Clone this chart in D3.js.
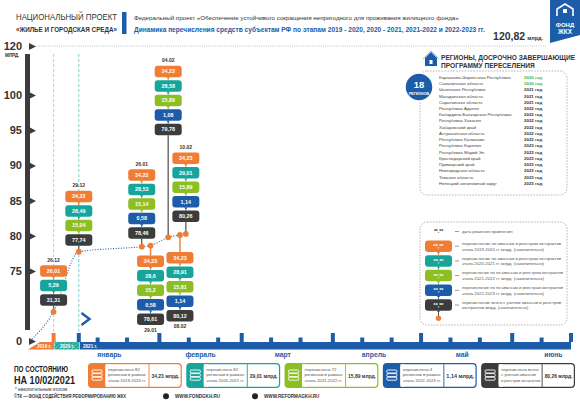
<!DOCTYPE html>
<html>
<head>
<meta charset="utf-8">
<script src="https://d3js.org/d3.v7.min.js"></script>
<style>
  body { margin: 0; background: #fff; }
  svg { display: block; font-family: 'Liberation Sans Narrow', 'Liberation Sans', Arial, sans-serif; }
</style>
</head>
<body>
<div id="chart"></div>
<script>
// --- data ---
var dates  = ["2019-12-26", "2020-12-29", "2021-01-26", "2021-01-29", "2021-02-04", "2021-02-08", "2021-02-10"];
var stage1 = [26.01, 34.22, 34.22, 34.23, 34.23, 34.23, 34.23];   // 2019-2020
var stage2 = [5.29, 28.49, 28.53, 28.6, 28.58, 28.91, 29.01];     // 2020-2021
var stage3 = [null, 15.04, 15.14, 15.2, 15.89, 15.81, 15.89];     // 2021-2022
var stage4 = [null, null, 0.58, 0.58, 1.08, 1.14, 1.14];          // 2022-2023
var totals = [31.31, 77.74, 78.46, 78.61, 79.78, 80.12, 80.26];

var yTicks = [0, 75, 80, 85, 90, 95, 100, 120];
var months = ["январь", "февраль", "март", "апрель", "май", "июнь"];
var segments = ["2019 г.", "2020 г.", "2021 г."];
var target = "120,82";

var stageNames = ["2019-2020", "2020-2021", "2021-2022", "2022-2023"];
var stageRegions = [82, 82, 72, 4];

var regionNames = ["Карачаево-Черкесская Республика", "Сахалинская область", "Чеченская Республика",
  "Магаданская область", "Саратовская область", "Республика Адыгея", "Кабардино-Балкарская Республика",
  "Республика Хакасия", "Хабаровский край", "Астраханская область", "Республика Калмыкия",
  "Республика Карелия", "Республика Марий Эл", "Краснодарский край", "Приморский край",
  "Новгородская область", "Томская область", "Ненецкий автономный округ"];
var regionYears = [2020, 2020, 2021, 2021, 2021, 2022, 2022, 2022, 2022, 2022, 2022,
  2023, 2023, 2023, 2023, 2023, 2023, 2023];

var legendTexts = [
  ["дата решения правления"],
  ["перечисление по авансам и реестрам контрактов", "этапа 2019-2020 гг. млрд. (накопительно)"],
  ["перечисление по авансам и реестрам контрактов", "этапа 2020-2021 гг. млрд. (накопительно)"],
  ["перечисление по по авансам и реестром контрактов", "этапа 2021-2022 гг. млрд. (накопительно)"],
  ["перечисление по по авансам и реестрам контрактов", "этапа 2022-2023 гг. млрд. (накопительно)"],
  ["перечисление всего с учетом авансов и реестров", "контрактов млрд. (накопительно)"]
];

// --- layout of the stacks (which side of the curve, gap to the dot) ---
var stackSide = ["up", "up", "up", "down", "up", "down", "up"];
var stackLift = [6, 6, 8, 10, 102, 17, 12];

var orange = "#ef7d35", teal = "#17a59a", green = "#8dbe22", blue = "#1d5ca8", dark = "#3c3c3c";
var stageColors = [orange, teal, green, blue];

var parse = d3.timeParse("%Y-%m-%d");
var fmtDate = d3.timeFormat("%d.%m");
var num = function (v) { return String(v).replace(".", ","); };

var svg = d3.select("#chart").append("svg")
  .attr("width", 580).attr("height", 410);
svg.append("rect").attr("width", 580).attr("height", 410).attr("fill", "#fff");

function fit(sel, w) {
  sel.each(function () {
    if (this.getComputedTextLength() > w)
      d3.select(this).attr("textLength", w).attr("lengthAdjust", "spacingAndGlyphs");
  });
  return sel;
}

// --- header ---
fit(svg.append("text").attr("x", 16).attr("y", 20).attr("font-size", 8.6).attr("fill", "#333")
  .text("НАЦИОНАЛЬНЫЙ ПРОЕКТ"), 101);
fit(svg.append("text").attr("x", 16).attr("y", 31.5).attr("font-size", 6.4).attr("font-weight", "bold")
  .attr("fill", "#333").text("«ЖИЛЬЕ И ГОРОДСКАЯ СРЕДА»"), 101);
svg.append("rect").attr("x", 122).attr("y", 12).attr("width", 4.5).attr("height", 22).attr("fill", blue);
fit(svg.append("text").attr("x", 134).attr("y", 20).attr("font-size", 6.2).attr("fill", "#333")
  .text("Федеральный проект «Обеспечение устойчивого сокращения  непригодного для проживания жилищного фонда»"), 349);
fit(svg.append("text").attr("x", 134).attr("y", 31.5).attr("font-size", 6.6).attr("font-weight", "bold")
  .attr("fill", blue)
  .text("Динамика перечисления средств субъектам РФ по этапам 2019 - 2020, 2020 - 2021, 2021-2022 и 2022-2023 гг."), 360);

var tgt = svg.append("text").attr("x", 543).attr("y", 40).attr("text-anchor", "end")
  .attr("font-weight", "bold").attr("fill", "#333");
tgt.append("tspan").attr("font-size", 10.5).text(target);
tgt.append("tspan").attr("font-size", 5.5).attr("dx", 2).text("млрд.");

// logo
var logo = svg.append("g");
logo.append("path").attr("d", "M550,0H580V35L550,43Z").attr("fill", blue);
logo.append("path").attr("d", "M557,16V9L565,4L573,9V16").attr("fill", "none").attr("stroke", "#fff").attr("stroke-width", 1.6);
logo.append("rect").attr("x", 563).attr("y", 9).attr("width", 4).attr("height", 4).attr("fill", "#fff");
logo.append("text").attr("x", 565).attr("y", 27).attr("text-anchor", "middle").attr("font-size", 6)
  .attr("font-weight", "bold").attr("fill", "#fff").text("ФОНД");
logo.append("text").attr("x", 565).attr("y", 34).attr("text-anchor", "middle").attr("font-size", 6.4)
  .attr("font-weight", "bold").attr("fill", "#fff").text("ЖКХ");

// --- scales ---
var y = d3.scaleLinear().domain([0, 75, 100, 120]).range([341, 271, 95, 46]);
var x = d3.scaleTime()
  .domain([new Date(2019, 0, 1), new Date(2020, 0, 1), new Date(2021, 0, 1), new Date(2021, 0, 5), new Date(2021, 5, 21)])
  .range([29, 54, 79, 80, 571]);

// dotted 120 line
svg.append("line").attr("x1", 37).attr("x2", 546).attr("y1", y(120)).attr("y2", y(120))
  .attr("stroke", "#9aa0a6").attr("stroke-width", 0.8).attr("stroke-dasharray", "0.8,1.4");

// --- y axis ---
svg.append("rect").attr("x", 25).attr("y", y(120) + 8).attr("width", 5).attr("height", 330 - y(120) - 8)
  .attr("fill", dark);
var yAxis = svg.append("g").attr("transform", "translate(25,0)")
  .call(d3.axisLeft(y).tickValues(yTicks).tickSize(0).tickPadding(3).tickFormat(d3.format("d")));
yAxis.select(".domain").remove();
yAxis.selectAll(".tick text").attr("font-size", 11).attr("font-weight", "bold").attr("fill", "#333")
  .attr("font-family", "'Liberation Sans', Arial, sans-serif");
yAxis.selectAll(".tick").append("path").attr("d", "M4,-3.6L11,0L4,3.6Z").attr("fill", dark);
svg.append("text").attr("x", 5).attr("y", y(120) + 11).attr("font-size", 4.6).attr("font-weight", "bold")
  .attr("fill", "#333").text("МЛРД.");

// stage guide lines
var d0 = parse(dates[0]), d1 = parse(dates[1]);
svg.append("line").attr("x1", x(d0)).attr("x2", x(d0)).attr("y1", y(120) + 8).attr("y2", 342)
  .attr("stroke", "#f6b48a").attr("stroke-width", 0.9).attr("stroke-dasharray", "3,2");
svg.append("line").attr("x1", x(d1)).attr("x2", x(d1)).attr("y1", y(120) + 8).attr("y2", 342)
  .attr("stroke", "#6ccac1").attr("stroke-width", 0.9).attr("stroke-dasharray", "3,2");

// --- timeline ---
var defs = svg.append("defs");
var pat = defs.append("pattern").attr("id", "hatch").attr("patternUnits", "userSpaceOnUse")
  .attr("width", 3).attr("height", 3).attr("patternTransform", "rotate(45)");
pat.append("rect").attr("width", 3).attr("height", 3).attr("fill", teal);
pat.append("rect").attr("width", 1.2).attr("height", 3).attr("fill", "#57c3b8");

var tlTop = 342, tlBot = 349.5;
var xs0 = x(new Date(2019, 0, 1)), xs1 = x(new Date(2020, 0, 1)), xs2 = x(new Date(2021, 0, 5)), xEnd = x(new Date(2021, 5, 21));
svg.append("path").attr("d", "M" + (xs0 - 1) + "," + tlBot + "L" + (xs0 + 11) + "," + tlTop + "H" + xs1 + "V" + tlBot + "Z")
  .attr("fill", orange);
svg.append("rect").attr("x", xs1 + 0.5).attr("y", tlTop).attr("width", xs2 - xs1 - 1).attr("height", tlBot - tlTop)
  .attr("fill", "url(#hatch)");
svg.append("rect").attr("x", xs2).attr("y", tlTop).attr("width", xEnd - xs2).attr("height", tlBot - tlTop)
  .attr("fill", blue);
[xs0 + 8, xs1 + 6, xs2 + 3].forEach(function (px, i) {
  svg.append("text").attr("x", px).attr("y", tlBot - 1.8).attr("font-size", 4.6).attr("font-weight", "bold")
    .attr("fill", "#fff").text(segments[i]);
});

// event markers for the 2019 / 2020 stages
[[d0, orange], [d1, blue]].forEach(function (m) {
  svg.append("rect").attr("x", x(m[0]) - 2).attr("y", tlTop - 9).attr("width", 4).attr("height", 9).attr("fill", m[1]);
});

// decade ticks 2021
var tickDates = [];
for (var m = 0; m < 6; m++) [1, 11, 21].forEach(function (d) {
  var dt = new Date(2021, m, d);
  if (dt >= new Date(2021, 0, 11)) tickDates.push(dt);
});
svg.selectAll(".dtick").data(tickDates).enter().append("rect")
  .attr("x", function (d) { return x(d) - 2; })
  .attr("y", function (d, i) { return (d.getDate() === 1 || i === tickDates.length - 1) ? tlTop - 9 : tlTop - 4.5; })
  .attr("width", 4)
  .attr("height", function (d, i) { return (d.getDate() === 1 || i === tickDates.length - 1) ? 9 : 4.5; })
  .attr("fill", blue);

svg.selectAll(".month").data(months).enter().append("text")
  .attr("x", function (d, i) { return x(new Date(2021, i, 15)); })
  .attr("y", 357).attr("text-anchor", "middle").attr("font-size", 6.8).attr("font-weight", "bold")
  .attr("fill", blue).text(function (d) { return d; });

// chevron at the start of 2021
svg.append("path").attr("d", "M81.5,313L89.5,319L81.5,325").attr("fill", "none")
  .attr("stroke", blue).attr("stroke-width", 2.4);

// --- cumulative curve ---
var pts = [[x(new Date(2019, 0, 1)) + 3, y(0) - 2]].concat(dates.map(function (d, i) {
  return [x(parse(d)), y(totals[i])];
}));
svg.append("path").attr("d", d3.line().curve(d3.curveMonotoneX)(pts))
  .attr("fill", "none").attr("stroke", blue).attr("stroke-width", 1.1).attr("stroke-dasharray", "1,1.6");

// --- stacks ---
var bw = 27, bh = 11.5, pitch = 14.5;

function drawBox(g, cx, top, color, label) {
  g.append("rect").attr("x", cx - bw / 2).attr("y", top).attr("width", bw).attr("height", bh)
    .attr("rx", 3).attr("fill", color);
  g.append("text").attr("x", cx).attr("y", top + bh / 2 + 1.9).attr("text-anchor", "middle")
    .attr("font-size", 5.4).attr("font-weight", "bold").attr("fill", "#fff").text(label);
}
function drawLink(g, cx, yTop, yBot, color) {
  g.append("line").attr("x1", cx).attr("x2", cx).attr("y1", yTop).attr("y2", yBot)
    .attr("stroke", color).attr("stroke-width", 0.9);
  g.append("path").attr("d", "M" + (cx - 1.8) + "," + yTop + "L" + (cx + 1.8) + "," + yTop + "L" + cx + "," + (yTop + 1.8) + "Z")
    .attr("fill", color);
}

var stacks = svg.append("g");
var dotsG = svg.append("g");
dates.forEach(function (d, i) {
  var cx = x(parse(d)), dy = y(totals[i]);
  var items = [];
  [stage1, stage2, stage3, stage4].forEach(function (s, k) {
    if (s[i] != null) items.push({ v: s[i], c: stageColors[k] });
  });
  items.push({ v: totals[i], c: dark });
  var n = items.length, g = stacks.append("g");
  var tops;
  if (stackSide[i] === "up") {
    var blackTop = dy - stackLift[i] - bh;
    tops = items.map(function (it, k) { return blackTop - (n - 1 - k) * pitch; });
    g.append("line").attr("x1", cx).attr("x2", cx).attr("y1", blackTop + bh).attr("y2", dy)
      .attr("stroke", "#666").attr("stroke-width", 1.4);
    g.append("text").attr("x", cx).attr("y", tops[0] - 3.5).attr("text-anchor", "middle")
      .attr("font-size", 5).attr("font-weight", "bold").attr("fill", "#333").text(fmtDate(parse(d)));
  } else {
    var firstTop = dy + stackLift[i];
    tops = items.map(function (it, k) { return firstTop + k * pitch; });
    g.append("line").attr("x1", cx).attr("x2", cx).attr("y1", dy).attr("y2", firstTop)
      .attr("stroke", orange).attr("stroke-width", 1.4);
    g.append("text").attr("x", cx).attr("y", tops[n - 1] + bh + 7).attr("text-anchor", "middle")
      .attr("font-size", 5).attr("font-weight", "bold").attr("fill", "#333").text(fmtDate(parse(d)));
  }
  items.forEach(function (it, k) {
    if (k < n - 1) drawLink(g, cx, tops[k] + bh, tops[k + 1], it.c);
  });
  items.forEach(function (it, k) { drawBox(g, cx, tops[k], it.c, num(it.v)); });
  dotsG.append("circle").attr("cx", cx).attr("cy", dy).attr("r", 2.9).attr("fill", orange);
});

// --- regions panel ---
var rp = svg.append("g");
rp.append("path").attr("d", "M425,58L431,52L437,58V66H425Z").attr("fill", blue);
rp.append("path").attr("d", "M423,59L431,51L439,59").attr("fill", "none").attr("stroke", "#9bb5d6").attr("stroke-width", 1);
rp.append("rect").attr("x", 429.5).attr("y", 60).attr("width", 3).attr("height", 4).attr("fill", "#fff");
rp.append("text").attr("x", 441).attr("y", 60).attr("font-size", 6.6).attr("font-weight", "bold")
  .attr("fill", "#333").text("РЕГИОНЫ, ДОСРОЧНО ЗАВЕРШАЮЩИЕ");
rp.append("text").attr("x", 441).attr("y", 67.8).attr("font-size", 6.6).attr("font-weight", "bold")
  .attr("fill", "#333").text("ПРОГРАММУ ПЕРЕСЕЛЕНИЯ");
rp.append("rect").attr("x", 420).attr("y", 71).attr("width", 147).attr("height", 124).attr("rx", 7)
  .attr("fill", "none").attr("stroke", "#999").attr("stroke-width", 0.7).attr("stroke-dasharray", "1.6,1.3");
rp.append("circle").attr("cx", 419).attr("cy", 87).attr("r", 14).attr("fill", blue)
  .attr("stroke", "#fff").attr("stroke-width", 1.5);
rp.append("text").attr("x", 419).attr("y", 88).attr("text-anchor", "middle").attr("font-size", 9.5)
  .attr("font-weight", "bold").attr("fill", "#fff").text(regionNames.length);
rp.append("text").attr("x", 419).attr("y", 94.5).attr("text-anchor", "middle").attr("font-size", 3.6)
  .attr("font-weight", "bold").attr("fill", "#fff").text("РЕГИОНОВ");

var rowY = d3.scalePoint().domain(regionNames).range([77.3, 183.3]);
rp.selectAll(".rname").data(regionNames).enter().append("text")
  .attr("x", 439).attr("y", function (d) { return rowY(d) + 1.5; })
  .attr("font-size", 4.4).attr("fill", "#444").text(function (d) { return d; });
rp.selectAll(".ryear").data(regionYears).enter().append("text")
  .attr("x", 524).attr("y", function (d, i) { return rowY(regionNames[i]) + 1.5; })
  .attr("font-size", 4.4).attr("font-weight", "bold")
  .attr("fill", function (d) { return d === 2020 ? "#3db54a" : "#333"; })
  .text(function (d) { return d + " год"; });

// --- legend panel ---
var lg = svg.append("g");
lg.append("rect").attr("x", 420).attr("y", 222).attr("width", 147).attr("height", 103).attr("rx", 7)
  .attr("fill", "none").attr("stroke", "#999").attr("stroke-width", 0.7).attr("stroke-dasharray", "1.6,1.3");
var legY = d3.scalePoint().domain(d3.range(legendTexts.length)).range([231.5, 305]);
var legColors = [null].concat(stageColors).concat([dark]);
legendTexts.forEach(function (lines, i) {
  var cy = legY(i), cx = 438.5;
  if (i === 0) {
    lg.append("text").attr("x", cx).attr("y", cy + 1.5).attr("text-anchor", "middle").attr("font-size", 5)
      .attr("font-weight", "bold").attr("fill", "#333").text("**.**");
  } else {
    if (i < legendTexts.length - 1) drawLink(lg, cx, cy + bh / 2, legY(i + 1) - bh / 2, legColors[i]);
    else drawLink(lg, cx, cy + bh / 2, cy + 11, legColors[i]);
    drawBox(lg, cx, cy - bh / 2, legColors[i], "**,**");
  }
  lg.append("line").attr("x1", 455).attr("x2", 459).attr("y1", cy).attr("y2", cy)
    .attr("stroke", "#555").attr("stroke-width", 0.6);
  lines.forEach(function (t, k) {
    fit(lg.append("text").attr("x", 462).attr("y", cy + 1.5 + (k - (lines.length - 1) / 2) * 5.6)
      .attr("font-size", 4.3).attr("fill", "#555").text(t), 101);
  });
});
lg.append("circle").attr("cx", 438.5).attr("cy", 318.3).attr("r", 2.7).attr("fill", orange);

// --- bottom status ---
fit(svg.append("text").attr("x", 14).attr("y", 372).attr("font-size", 9).attr("font-weight", "bold")
  .attr("fill", "#222").attr("font-family", "'Liberation Sans', Arial, sans-serif").text("ПО СОСТОЯНИЮ"), 54);
fit(svg.append("text").attr("x", 14).attr("y", 383.5).attr("font-size", 10.5).attr("font-weight", "bold")
  .attr("fill", "#222").attr("font-family", "'Liberation Sans', Arial, sans-serif")
  .text("НА " + d3.timeFormat("%d/%m/%Y")(parse(dates[dates.length - 1]))), 61);
fit(svg.append("text").attr("x", 15).attr("y", 391).attr("font-size", 4.6).attr("fill", "#333")
  .text("* накопительным итогом"), 66);

// cards
var last = dates.length - 1;
var cardVals = [stage1[last], stage2[last], stage3[last], stage4[last], totals[last]];
var cardColors = stageColors.concat([dark]);
var cardLines = stageNames.map(function (s, k) {
  return ["перечислено " + stageRegions[k], "регионам в рамках", "этапа " + s + " гг."];
}).concat([["перечислено всего", "с учетом авансов", "и реестров контрактов"]]);
var cardX = d3.scaleBand().domain(d3.range(5)).range([88, 575]).paddingInner(0.045);
cardVals.forEach(function (v, k) {
  var cx0 = cardX(k), w = cardX.bandwidth(), ct = 363, ch = 25, c = cardColors[k];
  var g = svg.append("g");
  g.append("rect").attr("x", cx0).attr("y", ct).attr("width", w).attr("height", ch).attr("rx", 4).attr("fill", c);
  g.append("rect").attr("x", cx0 + 17.5).attr("y", ct + 1.2).attr("width", w - 18.7).attr("height", ch - 2.4)
    .attr("rx", 3).attr("fill", "#fff");
  g.append("rect").attr("x", cx0 + 17.5).attr("y", ct + 1.2).attr("width", 4).attr("height", ch - 2.4).attr("fill", "#fff");
  for (var b = 0; b < 3; b++) {
    g.append("rect").attr("x", cx0 + 4).attr("y", ct + 7 + b * 3.6).attr("width", 10).attr("height", 3)
      .attr("rx", 0.8).attr("fill", "none").attr("stroke", "#fff").attr("stroke-width", 0.9);
  }
  g.append("line").attr("x1", cx0 + 61).attr("x2", cx0 + 61).attr("y1", ct + 1.2).attr("y2", ct + ch - 1.2)
    .attr("stroke", c).attr("stroke-width", 0.9);
  cardLines[k].forEach(function (t, j) {
    fit(g.append("text").attr("x", cx0 + 20).attr("y", ct + 8 + j * 5.4).attr("font-size", 4.3)
      .attr("fill", "#555").text(t), 39);
  });
  fit(g.append("text").attr("x", cx0 + 63.5).attr("y", ct + 14.5).attr("font-size", 5.8).attr("font-weight", "bold")
    .attr("fill", "#333").text(num(v) + " млрд."), w - 66);
});

// footer
fit(svg.append("text").attr("x", 14).attr("y", 398).attr("font-size", 4.6).attr("font-weight", "bold")
  .attr("fill", "#333").text("©ТК — ФОНД СОДЕЙСТВИЯ РЕФОРМИРОВАНИЮ ЖКХ"), 112);
[[166, "WWW.FONDGKH.RU"], [255, "WWW.REFORMAGKH.RU"]].forEach(function (f) {
  svg.append("circle").attr("cx", f[0]).attr("cy", 396.3).attr("r", 3).attr("fill", "#222");
  svg.append("text").attr("x", f[0] + 9).attr("y", 398).attr("font-size", 4.6).attr("font-weight", "bold")
    .attr("fill", "#333").text(f[1]);
});
</script>
</body>
</html>
